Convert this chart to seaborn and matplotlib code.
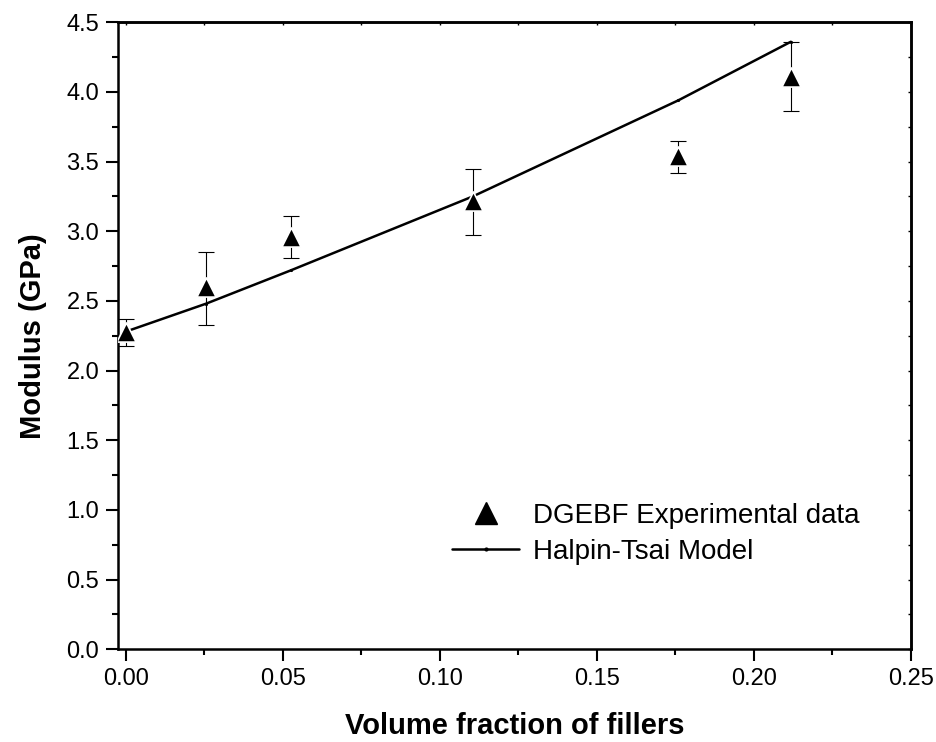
import matplotlib
matplotlib.use("Agg")
import matplotlib.pyplot as plt
from matplotlib.ticker import MultipleLocator, FormatStrFormatter, NullFormatter
from matplotlib.lines import Line2D
import seaborn as sns
import pandas as pd

# data
vol_frac = [0.0, 0.0255, 0.0526, 0.1105, 0.176, 0.2118]
modulus_exp = [2.28, 2.60, 2.96, 3.22, 3.54, 4.11]
err_low = [0.10, 0.27, 0.15, 0.25, 0.12, 0.25]
err_high = [0.09, 0.25, 0.15, 0.23, 0.11, 0.25]
model_x = [0.0, 0.0255, 0.0526, 0.1105, 0.176, 0.2118]
model_y = [2.28, 2.48, 2.72, 3.25, 3.94, 4.36]

exp_df = pd.DataFrame({"x": vol_frac, "y": modulus_exp})
mod_df = pd.DataFrame({"x": model_x, "y": model_y})

sns.set_theme(style="white")
plt.rcParams["font.family"] = ["Liberation Sans", "DejaVu Sans"]
plt.rcParams["text.color"] = "black"
plt.rcParams["axes.labelcolor"] = "black"
plt.rcParams["xtick.color"] = "black"
plt.rcParams["ytick.color"] = "black"

fig = plt.figure(figsize=(9.37, 7.42), dpi=100)
ax = fig.add_axes([0.126, 0.125, 0.846, 0.845])

ax.errorbar(vol_frac, modulus_exp, yerr=[err_low, err_high], fmt="none",
            ecolor="black", elinewidth=0.8, capsize=6, capthick=0.8, zorder=2)
sns.lineplot(data=mod_df, x="x", y="y", ax=ax, color="black", linewidth=1.8,
             marker="o", markersize=1.5, markeredgecolor="black", zorder=3,
             legend=False)
sns.scatterplot(data=exp_df, x="x", y="y", ax=ax, marker="^", s=190,
                color="black", edgecolor="white", linewidth=1.2, zorder=4,
                legend=False)

ax.set_xlim(-0.0025, 0.25)
ax.set_ylim(0.0, 4.5)
ax.xaxis.set_major_locator(MultipleLocator(0.05))
ax.xaxis.set_minor_locator(MultipleLocator(0.025))
ax.yaxis.set_major_locator(MultipleLocator(0.5))
ax.yaxis.set_minor_locator(MultipleLocator(0.25))
ax.xaxis.set_major_formatter(FormatStrFormatter("%.2f"))
ax.yaxis.set_major_formatter(FormatStrFormatter("%.1f"))

ax.tick_params(which="major", direction="out", length=8.6, width=1.5,
               labelsize=17, colors="black", bottom=True, left=True, pad=5)
ax.tick_params(which="minor", direction="out", length=4.3, width=1.5,
               bottom=True, left=True)

# small inward ticks on top and right
sx = ax.secondary_xaxis("top")
sx.xaxis.set_major_locator(MultipleLocator(0.05))
sx.xaxis.set_minor_locator(MultipleLocator(0.025))
sx.xaxis.set_major_formatter(NullFormatter())
sx.tick_params(which="both", direction="in", length=2.5, width=1.0, colors="black")
sx.spines["top"].set_linewidth(1.8)
sx.spines["top"].set_color("black")
sy = ax.secondary_yaxis("right")
sy.yaxis.set_major_locator(MultipleLocator(0.5))
sy.yaxis.set_minor_locator(MultipleLocator(0.25))
sy.yaxis.set_major_formatter(NullFormatter())
sy.tick_params(which="both", direction="in", length=2.5, width=1.0, colors="black")
sy.spines["right"].set_linewidth(1.8)
sy.spines["right"].set_color("black")

for sp in ax.spines.values():
    sp.set_color("black")
    sp.set_linewidth(1.8)

ax.set_xlabel("Volume fraction of fillers", fontsize=21, fontweight="bold", labelpad=16)
ax.set_ylabel("Modulus (GPa)", fontsize=21, fontweight="bold", labelpad=14)

handles = [
    Line2D([], [], marker="^", linestyle="none", color="black", markersize=16),
    Line2D([], [], marker="o", markersize=2, color="black", linewidth=1.8),
]
ax.legend(handles, ["DGEBF Experimental data", "Halpin-Tsai Model"],
          loc="lower left", bbox_to_anchor=(0.39, 0.095), frameon=False,
          fontsize=20, handlelength=2.4, handletextpad=0.5, labelspacing=0.35)

fig.savefig("out.png", dpi=100)
